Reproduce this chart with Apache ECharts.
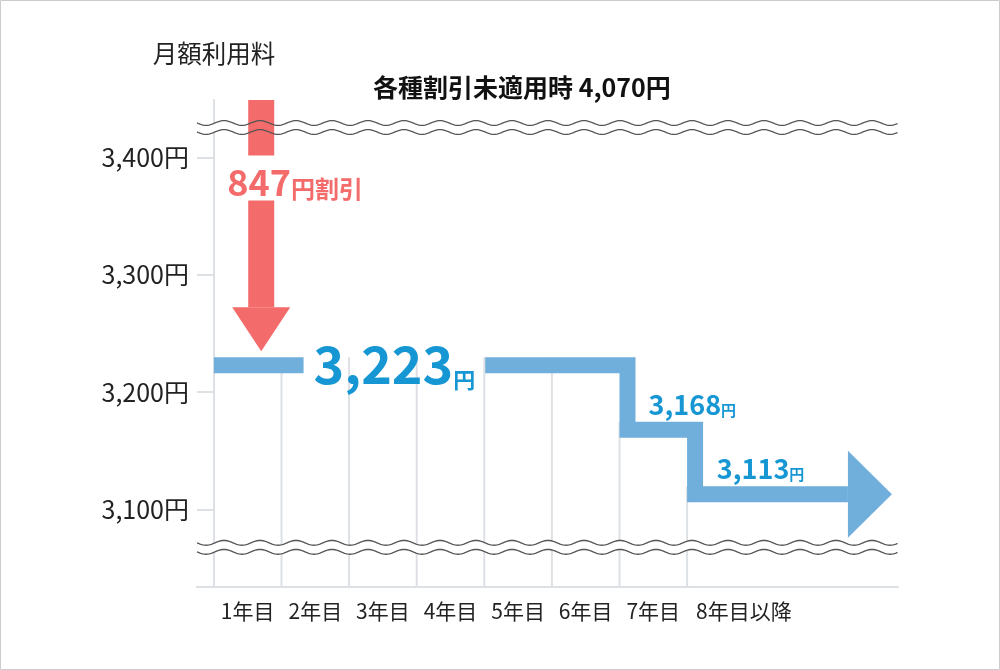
<!DOCTYPE html>
<html><head><meta charset="utf-8">
<script src="https://cdn.jsdelivr.net/npm/echarts@6/dist/echarts.min.js"></script>
<style>html,body{margin:0;padding:0;background:#fff}#c{width:1000px;height:670px}</style>
</head><body><div id="c"></div>
<script>
// ---- data ----
const categories = ['1年目','2年目','3年目','4年目','5年目','6年目','7年目','8年目以降'];
const monthlyFee = [3223, 3223, 3223, 3223, 3223, 3223, 3168, 3113];
const fullPrice = 4070;
const discount = 847;
const yTicks = [3100, 3200, 3300, 3400];
const breakValues = [3425.6, 3067.8];          // axis-break marks (value positions)
const priceLabelX = [2.67, 6.43, 7.44];        // where the price labels sit (x units)
const discountArrowX = 0.7;
const lineEndX = 10.03;

// ---- style ----
const FONT = "'Noto Sans CJK JP','Noto Sans',sans-serif";
const BLUE = '#70AFDC', BLUE_TEXT = '#1697D4', RED = '#F36B6A', GRIDC = '#DDE0E4';
const yMin = 3034, yMax = 3449, xMin = -0.25, xMax = 10.12;
const BAND = 16;

const fmt = v => v.toLocaleString('en-US');
const mctx = document.createElement('canvas').getContext('2d');
function tw(text, size, weight) { mctx.font = (weight || 'normal') + ' ' + size + 'px ' + FONT; return mctx.measureText(text).width; }

// distinct price steps
const steps = [];
monthlyFee.forEach((v, i) => { if (i === 0 || v !== monthlyFee[i - 1]) steps.push({ i, v }); });

const chart = echarts.init(document.getElementById('c'), null, { renderer: 'canvas' });

function wave(x1, x2, yc) {
  const pts = [];
  for (let x = x1; x <= x2 + 0.01; x += 1.5) pts.push([x, yc + 2.4 * Math.sin((x - x1) / 36 * 2 * Math.PI)]);
  return pts;
}

const option = {
  animation: false,
  backgroundColor: '#fff',
  title: {
    text: '各種割引未適用時 ' + fmt(fullPrice) + '円',
    left: 368, top: 70,
    textStyle: { fontSize: 25, fontWeight: 'bold', color: '#111', fontFamily: FONT }
  },
  graphic: [{ type: 'rect', shape: { x: 0.5, y: 0.5, width: 999, height: 669 }, style: { fill: 'none', stroke: '#CCCCCC', lineWidth: 1 }, silent: true }],
  grid: { left: 197, right: 102, top: 100, bottom: 83 },
  xAxis: {
    type: 'value', min: xMin, max: xMax,
    axisLine: { show: true, lineStyle: { color: GRIDC, width: 2 } },
    axisTick: { show: false }, splitLine: { show: false },
    axisLabel: {
      customValues: categories.map((c, i) => i + 0.5),
      formatter: v => {
        const c = categories[Math.floor(v)];
        return Math.floor(v) === categories.length - 1 ? '{w|' + c + '}' : c;
      },
      margin: 14, fontSize: 21, color: '#222', fontFamily: FONT,
      rich: { w: { fontSize: 21, color: '#222', fontFamily: FONT, padding: [0, 0, 0, 46] } }
    }
  },
  yAxis: {
    type: 'value', min: yMin, max: yMax,
    name: '月額利用料', nameLocation: 'end', nameGap: 34,
    nameTextStyle: { fontSize: 24.5, color: '#222', fontFamily: FONT },
    axisLine: { show: true, onZero: true, lineStyle: { color: GRIDC, width: 2 } },
    axisTick: { show: true, length: 17, customValues: yTicks, lineStyle: { color: GRIDC, width: 2 } },
    axisLabel: { customValues: yTicks, formatter: v => fmt(v) + '円', margin: 8, fontSize: 25, color: '#222', fontFamily: FONT },
    splitLine: { show: false }
  },
  series: [
    { // drop lines at year boundaries
      type: 'custom', z: 2, silent: true, clip: false,
      data: monthlyFee.map((v, i) => [i, v]).slice(1),
      renderItem: (params, api) => {
        const top = api.coord([api.value(0), api.value(1)]);
        const bot = api.coord([api.value(0), yMin]);
        return { type: 'line', shape: { x1: top[0], y1: top[1] - BAND / 2, x2: bot[0], y2: bot[1] }, style: { stroke: GRIDC, lineWidth: 2 } };
      }
    },
    { // break fill
      type: 'custom', z: 3, silent: true, clip: false,
      data: breakValues.map(v => [0, v]),
      renderItem: (params, api) => {
        const yc = api.coord([0, api.value(1)])[1];
        const x1 = api.coord([xMin, yMin])[0], x2 = api.coord([xMax, yMin])[0];
        const up = wave(x1, x2, yc - 4.5), lo = wave(x1, x2, yc + 4.5);
        return { type: 'polygon', shape: { points: up.concat(lo.reverse()) }, style: { fill: '#fff' } };
      }
    },
    { // discount arrow
      type: 'custom', z: 4, silent: true, clip: false,
      data: [[discountArrowX, monthlyFee[0], fullPrice]],
      renderItem: (params, api) => {
        const x = api.coord([api.value(0), yMin])[0];
        const top = api.coord([api.value(0), Math.min(api.value(2), yMax)])[1];
        const tip = api.coord([api.value(0), api.value(1)])[1] - BAND / 2 - 6;
        const headTop = tip - 44;
        return {
          type: 'group', children: [
            { type: 'rect', shape: { x: x - 13, y: top, width: 26, height: headTop - top }, style: { fill: RED } },
            { type: 'polygon', shape: { points: [[x - 29, headTop], [x + 29, headTop], [x, tip]] }, style: { fill: RED } },
            { type: 'text', x: x - 34, y: top + 78, style: {
                text: '{n|' + discount + '}{u|円割引}', align: 'left', verticalAlign: 'middle', backgroundColor: '#fff',
                rich: {
                  n: { fontSize: 36, fontWeight: 'bold', fill: RED, fontFamily: FONT, lineHeight: 45, verticalAlign: 'bottom' },
                  u: { fontSize: 24, fontWeight: 'bold', fill: RED, fontFamily: FONT, lineHeight: 36, verticalAlign: 'bottom' }
                } } }
          ]
        };
      }
    },
    { // break lines
      type: 'custom', z: 5, silent: true, clip: false,
      data: breakValues.map(v => [0, v]),
      renderItem: (params, api) => {
        const yc = api.coord([0, api.value(1)])[1];
        const x1 = api.coord([xMin, yMin])[0], x2 = api.coord([xMax, yMin])[0];
        const st = { fill: 'none', stroke: '#555', lineWidth: 1.3 };
        return { type: 'group', children: [
          { type: 'polyline', shape: { points: wave(x1, x2, yc - 4.5) }, style: st },
          { type: 'polyline', shape: { points: wave(x1, x2, yc + 4.5) }, style: st }
        ] };
      }
    },
    { // monthly fee step band + labels
      type: 'custom', z: 6, silent: true, clip: false,
      data: [[0, monthlyFee[0]]],
      renderItem: (params, api) => {
        const Y = v => api.coord([0, v])[1];
        const X = x => api.coord([x, yMin])[0];
        const children = [];
        const s0 = steps[0];
        const w0 = tw(fmt(s0.v), 52, 'bold') + tw('円', 22, 'bold');
        const cx = X(priceLabelX[0]);
        const gapL = cx - w0 / 2 - 10, gapR = cx + w0 / 2 + 10;
        const y0 = Y(s0.v);
        const pts = [[gapR, y0]];
        let yPrev = y0;
        for (let k = 1; k < steps.length; k++) {
          const xs = X(steps[k].i) + BAND / 2, yn = Y(steps[k].v);
          pts.push([xs, yPrev], [xs, yn]);
          yPrev = yn;
        }
        const tipX = X(lineEndX), baseX = tipX - 44;
        pts.push([baseX, yPrev]);
        const lineSt = { fill: 'none', stroke: BLUE, lineWidth: BAND, lineJoin: 'miter', lineCap: 'butt' };
        children.push({ type: 'polyline', shape: { points: [[X(0), y0], [gapL, y0]] }, style: lineSt });
        children.push({ type: 'polyline', shape: { points: pts }, style: lineSt });
        children.push({ type: 'polygon', shape: { points: [[baseX, yPrev - 43.5], [tipX, yPrev], [baseX, yPrev + 43.5]] }, style: { fill: BLUE } });
        children.push({ type: 'text', x: cx, y: y0 - 1, style: {
          text: '{n|' + fmt(s0.v) + '}{u|円}', align: 'center', verticalAlign: 'middle',
          rich: {
            n: { fontSize: 52, fontWeight: 'bold', fill: BLUE_TEXT, fontFamily: FONT, lineHeight: 52, verticalAlign: 'bottom' },
            u: { fontSize: 22, fontWeight: 'bold', fill: BLUE_TEXT, fontFamily: FONT, lineHeight: 29, verticalAlign: 'bottom' }
          } } });
        for (let k = 1; k < steps.length; k++) {
          children.push({ type: 'text', x: X(priceLabelX[k]), y: Y(steps[k].v) - BAND / 2 - 4, style: {
            text: '{n|' + fmt(steps[k].v) + '}{u|円}', align: 'left', verticalAlign: 'bottom',
            rich: {
              n: { fontSize: 27, fontWeight: 'bold', fill: BLUE_TEXT, fontFamily: FONT, lineHeight: 27, verticalAlign: 'bottom' },
              u: { fontSize: 15, fontWeight: 'bold', fill: BLUE_TEXT, fontFamily: FONT, lineHeight: 18, verticalAlign: 'bottom' }
            } } });
        }
        return { type: 'group', children };
      }
    }
  ]
};
chart.setOption(option);
</script></body></html>
